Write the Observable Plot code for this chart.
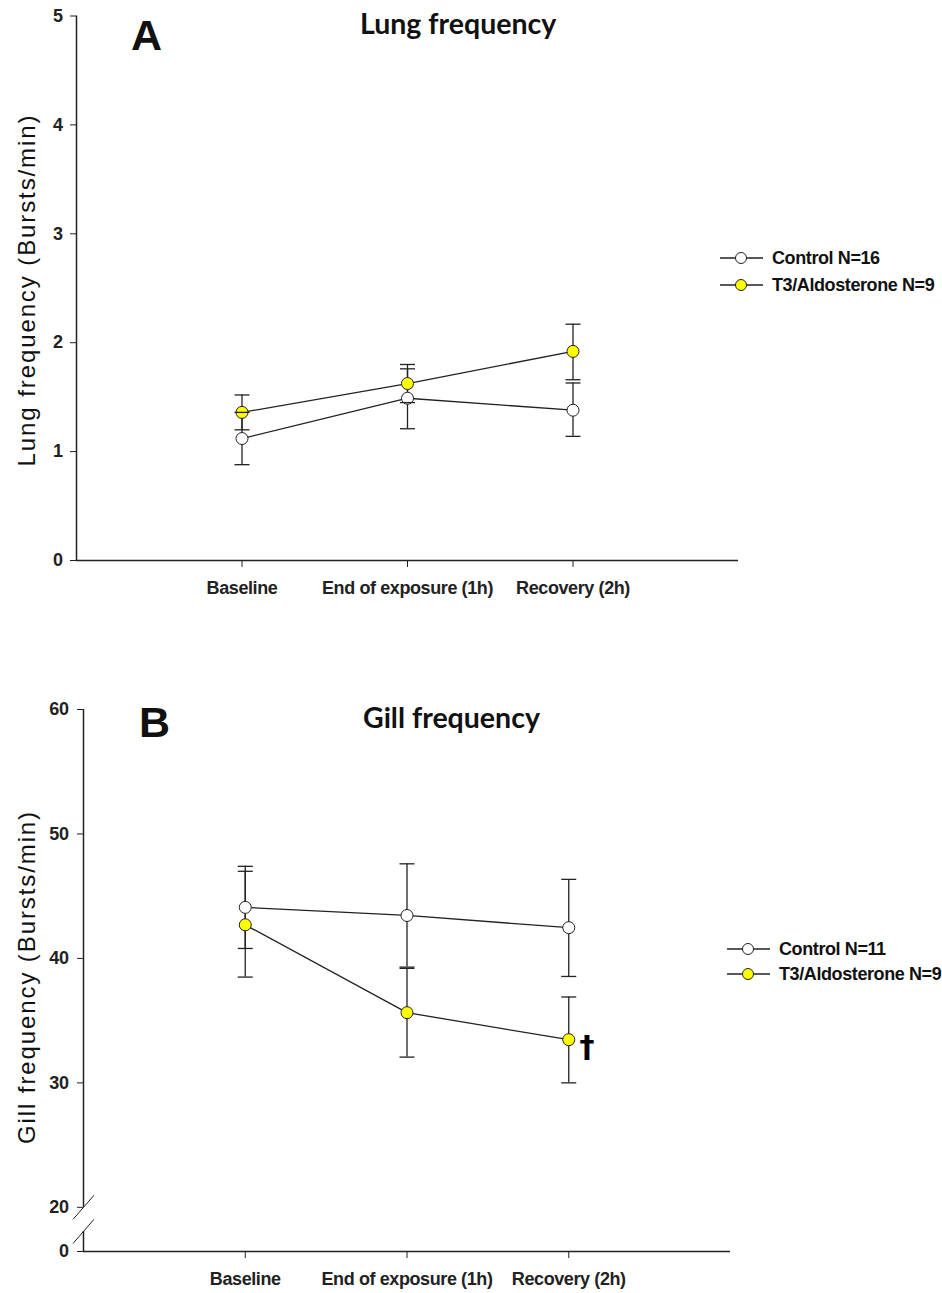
<!DOCTYPE html>
<html><head><meta charset="utf-8">
<script src="https://cdn.jsdelivr.net/npm/d3@7"></script>
<script src="https://cdn.jsdelivr.net/npm/@observablehq/plot@0.6"></script>
<style>
body{margin:0;background:#fff}
#wrap{position:relative;width:942px;height:1293px;overflow:hidden;background:#fff}
.abs{position:absolute;white-space:nowrap;color:#111}
.narrow{font-family:'Liberation Sans',Arial,sans-serif;letter-spacing:-0.4px}
.panel{position:absolute;left:0}
.letter{font-family:'Liberation Sans',Arial,sans-serif;font-weight:bold;font-size:43px;line-height:1}
.title{font-family:Lato,'Open Sans',sans-serif;font-weight:700;font-size:28.5px;line-height:1}
.ylab{font-family:'Liberation Sans',Arial,sans-serif;font-size:24px;line-height:1;transform:translate(-50%,-50%) rotate(-90deg);letter-spacing:1.9px}
.leg{display:flex;align-items:center;font-size:18px;font-weight:bold;line-height:1}
.leg svg{margin-right:9px}
</style></head><body><div id="wrap"></div>
<script>
// ---------- data ----------
const categories = ["Baseline", "End of exposure (1h)", "Recovery (2h)"];
const groups = ["Control", "T3/Aldosterone"];
const groupFill = ["#ffffff", "#ffff00"];

// Panel A: Lung frequency (Bursts/min)
const lungControlMean = [1.12, 1.49, 1.38];
const lungControlLow  = [0.88, 1.21, 1.14];
const lungControlHigh = [1.36, 1.76, 1.63];
const lungT3Mean = [1.36, 1.625, 1.92];
const lungT3Low  = [1.20, 1.45, 1.66];
const lungT3High = [1.52, 1.80, 2.17];
const lungYTicks = [0, 1, 2, 3, 4, 5];
const lungN = [16, 9];

// Panel B: Gill frequency (Bursts/min), broken axis between 0 and 20
const gillControlMean = [44.1, 43.45, 42.47];
const gillControlLow  = [40.8, 39.3, 38.55];
const gillControlHigh = [47.4, 47.6, 46.35];
const gillT3Mean = [42.7, 35.64, 33.47];
const gillT3Low  = [38.5, 32.07, 30.0];
const gillT3High = [47.0, 39.2, 36.9];
const gillYTicks = [0, 20, 30, 40, 50, 60];
const gillBreakAt = 20;        // values below this are compressed
const gillBreakSpan = 3.55;    // axis units the 0–20 stretch occupies
const gillBreakMarks = [20, 9.1];
const gillN = [11, 9];
const gillSignificant = [{group: 1, cat: 2, mark: "\u2020"}];

// ---------- helpers ----------
// broken-axis position: values >= 20 are unchanged, 0..20 compressed below
const gillPos = v => v >= gillBreakAt ? v : gillBreakAt - gillBreakSpan + v * gillBreakSpan / gillBreakAt;
const gillVal = p => p >= gillBreakAt - 1e-9 ? p : (p - (gillBreakAt - gillBreakSpan)) * gillBreakAt / gillBreakSpan;

function rows(means, lows, highs, pos = v => v) {
  const out = [];
  means.forEach((m, g) => m.forEach((v, i) => out.push({
    group: groups[g], fill: groupFill[g], x: i + 1, mean: pos(v), low: pos(lows[g][i]), high: pos(highs[g][i])
  })));
  return out;
}
const capSymbol = {draw(ctx, size) { const w = Math.sqrt(size / Math.PI); ctx.moveTo(-w, 0); ctx.lineTo(w, 0); }};
const slashSymbol = {draw(ctx, size) { const w = Math.sqrt(size / Math.PI); ctx.moveTo(-w, w * 1.15); ctx.lineTo(w, -w * 1.15); }};
const INK = "#222";
const FONT = "'Liberation Sans',Arial,sans-serif";

function dataMarks(data) {
  const caps = data.flatMap(d => [{x: d.x, y: d.low}, {x: d.x, y: d.high}]);
  return [
    Plot.ruleX(data, {x: "x", y1: "low", y2: "high", stroke: INK, strokeWidth: 1.3}),
    Plot.line(data, {x: "x", y: "mean", z: "group", stroke: INK, strokeWidth: 1.3}),
    Plot.dot(data, {x: "x", y: "mean", r: 6, fill: "fill", stroke: INK, strokeWidth: 1}),
    Plot.dot(caps, {x: "x", y: "y", r: 7.5, symbol: capSymbol, fill: "none", stroke: INK, strokeWidth: 1.3})
  ];
}
function xAxis() {
  return Plot.axisX({ticks: [1, 2, 3], tickFormat: i => categories[i - 1], tickSize: 7, tickPadding: 14,
    label: null, stroke: INK, fontWeight: "bold"});
}
const wrap = document.getElementById("wrap");
function place(node, top) { const d = document.createElement("div"); d.className = "panel"; d.style.top = top + "px"; d.appendChild(node); wrap.appendChild(d); }
function html(cls, text, left, top) { const d = document.createElement("div"); d.className = "abs " + cls; d.textContent = text; d.style.left = left + "px"; d.style.top = top + "px"; wrap.appendChild(d); return d; }
function legend(left, top, N, rowGap) {
  groups.forEach((g, k) => {
    const d = document.createElement("div");
    d.className = "abs narrow leg";
    d.style.left = left + "px"; d.style.top = (top + k * rowGap) + "px";
    d.innerHTML = `<svg width="43" height="14"><line x1="0" x2="43" y1="7" y2="7" stroke="${INK}" stroke-width="1.3"/><circle cx="21" cy="7" r="5.5" fill="${groupFill[k]}" stroke="${INK}"/></svg>`;
    const s = document.createElement("span"); s.textContent = `${g} N=${N[k]}`; d.appendChild(s);
    wrap.appendChild(d);
  });
}
const plotStyle = {fontFamily: FONT, fontSize: "18px", letterSpacing: "-0.4px", color: INK, background: "transparent"};

// ---------- Panel A ----------
const lungData = rows([lungControlMean, lungT3Mean], [lungControlLow, lungT3Low], [lungControlHigh, lungT3High]);
const plotA = Plot.plot({
  width: 942, height: 620,
  marginLeft: 76, marginRight: 204, marginTop: 15.5, marginBottom: 60,
  style: plotStyle,
  x: {domain: [0, 4]},
  y: {domain: [lungYTicks[0], lungYTicks[lungYTicks.length - 1]]},
  marks: [
    Plot.ruleX([0], {y1: lungYTicks[0], y2: lungYTicks[lungYTicks.length - 1], stroke: INK, strokeWidth: 1.5}),
    Plot.ruleY([0], {stroke: INK, strokeWidth: 1.5}),
    Plot.axisY({ticks: lungYTicks, tickFormat: d => String(d), tickSize: 6, tickPadding: 8, label: null, stroke: INK, fontWeight: "bold"}),
    xAxis(),
    ...dataMarks(lungData)
  ]
});
place(plotA, 0);

// ---------- Panel B ----------
const gillData = rows([gillControlMean, gillT3Mean], [gillControlLow, gillT3Low], [gillControlHigh, gillT3High], gillPos);
const sig = gillSignificant.map(s => ({x: s.cat + 1, y: gillPos([gillControlMean, gillT3Mean][s.group][s.cat]), mark: s.mark}));
const gTop = gillYTicks[gillYTicks.length - 1];
const plotB = Plot.plot({
  width: 942, height: 653,
  marginLeft: 83, marginRight: 212, marginTop: 69, marginBottom: 42,
  style: plotStyle,
  x: {domain: [0, 4]},
  y: {domain: [gillPos(gillYTicks[0]), gTop]},
  marks: [
    Plot.ruleX([{y1: gillPos(gillBreakMarks[0]), y2: gTop}, {y1: gillPos(gillYTicks[0]), y2: gillPos(gillBreakMarks[1])}],
      {x: () => 0, y1: "y1", y2: "y2", stroke: INK, strokeWidth: 1.5}),
    Plot.ruleY([gillPos(gillYTicks[0])], {stroke: INK, strokeWidth: 1.5}),
    Plot.dot(gillBreakMarks, {x: () => 0, y: d => gillPos(d), r: 10.5, symbol: slashSymbol, fill: "none", stroke: INK, strokeWidth: 1}),
    Plot.axisY({ticks: gillYTicks.map(gillPos), tickFormat: p => String(Math.round(gillVal(p))), tickSize: 6, tickPadding: 9, label: null, stroke: INK, fontWeight: "bold"}),
    xAxis(),
    ...dataMarks(gillData),
    Plot.text(sig, {x: "x", y: "y", text: "mark", dx: 18, dy: 8, fontSize: 30, fontWeight: "bold", fontFamily: "'DejaVu Sans',sans-serif", fill: "#000"})
  ]
});
place(plotB, 640);

// ---------- titles, labels, legends ----------
html("letter", "A", 131, 14);
html("title", "Lung frequency", 360, 9);
html("letter", "B", 139, 701);
html("title", "Gill frequency", 363, 703);
html("ylab", "Lung frequency (Bursts/min)", 27, 290);
html("ylab", "Gill frequency (Bursts/min)", 27, 977);
legend(720, 249, lungN, 27);
legend(727, 940, gillN, 25);
</script></body></html>
